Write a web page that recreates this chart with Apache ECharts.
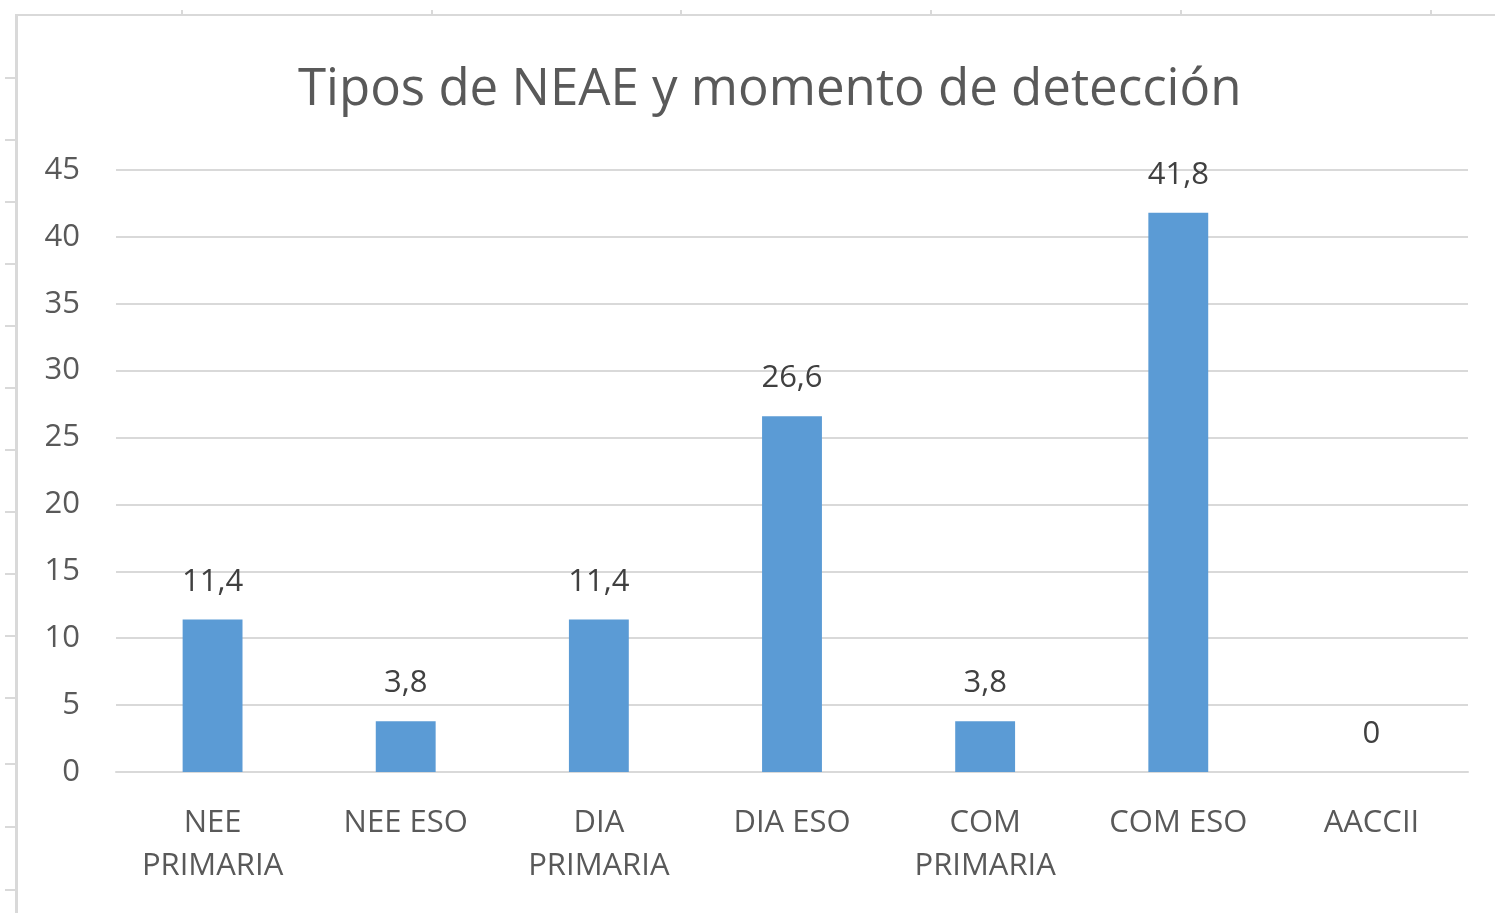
<!DOCTYPE html>
<html>
<head>
<meta charset="utf-8">
<script src="https://cdn.jsdelivr.net/npm/echarts@6/dist/echarts.min.js"></script>
<style>
    html, body { margin: 0; padding: 0; background: #fff; }
    #chart { width: 1495px; height: 913px; }
</style>
</head>
<body>
<div id="chart"></div>
<script>
var categories = ['NEE\nPRIMARIA', 'NEE ESO', 'DIA\nPRIMARIA', 'DIA ESO', 'COM\nPRIMARIA', 'COM ESO', 'AACCII'];
var values = [11.4, 3.8, 11.4, 26.6, 3.8, 41.8, 0];

var chart = echarts.init(document.getElementById('chart'));

// sheet cell borders round the chart
var frame = [
    { type: 'rect', shape: { x: 16, y: 14, width: 1480, height: 2 }, style: { fill: '#d9d9d9' } },
    { type: 'rect', shape: { x: 15, y: 14, width: 3, height: 900 }, style: { fill: '#d9d9d9' } }
];
[77, 139, 201, 263, 325, 387, 449, 511, 573, 635, 697, 763, 826, 889].forEach(function (y) {
    frame.push({ type: 'rect', shape: { x: 5, y: y, width: 11, height: 2 }, style: { fill: '#d9d9d9' } });
});
[181, 431, 680, 930, 1180, 1430].forEach(function (x) {
    frame.push({ type: 'rect', shape: { x: x, y: 10, width: 2, height: 5 }, style: { fill: '#d9d9d9' } });
});

chart.setOption({
    animation: false,
    textStyle: { fontFamily: 'Open Sans' },
    graphic: frame,
    title: {
        text: 'Tipos de NEAE y momento de detección',
        left: 293,
        top: 60,
        textStyle: { fontFamily: 'Open Sans', fontSize: 51, fontWeight: 'normal', color: '#595959' }
    },
    grid: { left: 116, right: 27, top: 170, bottom: 141 },
    xAxis: {
        type: 'category',
        data: categories,
        axisLine: { lineStyle: { color: '#d9d9d9', width: 2 } },
        axisTick: { show: false },
        axisLabel: { fontSize: 31, color: '#595959', margin: 30, lineHeight: 43, interval: 0 }
    },
    yAxis: {
        type: 'value',
        min: 0,
        max: 45,
        interval: 5,
        axisLine: { show: false },
        axisTick: { show: false },
        splitLine: { lineStyle: { color: '#d9d9d9', width: 2 } },
        axisLabel: { fontSize: 31, color: '#595959', margin: 36 }
    },
    series: [{
        type: 'bar',
        data: values,
        barWidth: '31%',
        itemStyle: { color: '#5b9bd5' },
        label: {
            show: true,
            position: 'top',
            distance: 22,
            fontSize: 31,
            color: '#404040',
            formatter: function (p) { return String(p.value).replace('.', ','); }
        }
    }]
});
</script>
</body>
</html>
